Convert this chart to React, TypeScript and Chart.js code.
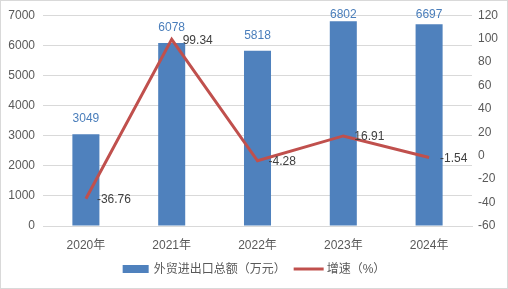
import React, { useEffect, useRef } from "react";
import { Chart, registerables } from "chart.js";

Chart.register(...registerables);

const categories = ["2020年", "2021年", "2022年", "2023年", "2024年"];
const totalValues = [3049, 6078, 5818, 6802, 6697];
const growthValues = [-36.76, 99.34, -4.28, 16.91, -1.54];
const barLabel = "外贸进出口总额（万元）";
const lineLabel = "增速（%）";

const BAR_COLOR = "#4f81bd";
const LINE_COLOR = "#c0504d";
const TICK_COLOR = "#595959";
const FONT = "'Liberation Sans', 'Noto Sans CJK SC', sans-serif";

const decor = {
  id: "decor",
  afterDatasetsDraw(chart: any) {
    const ctx = chart.ctx;
    ctx.save();
    ctx.font = `12px ${FONT}`;
    // bar labels
    const barMeta = chart.getDatasetMeta(0);
    ctx.fillStyle = "#4a7ebb";
    ctx.textAlign = "center";
    ctx.textBaseline = "middle";
    barMeta.data.forEach((el: any, i: number) => {
      const y = Math.max(el.y - 15, chart.chartArea.top - 1);
      ctx.fillText(String(totalValues[i]), el.x, y);
    });
    // line labels
    const lineMeta = chart.getDatasetMeta(1);
    ctx.fillStyle = "#404040";
    ctx.textAlign = "left";
    lineMeta.data.forEach((el: any, i: number) => {
      ctx.fillText(growthValues[i].toFixed(2), el.x + 11, el.y + 1);
    });
    // legend
    const W = chart.width;
    const ly = 269;
    const t1 = ctx.measureText(barLabel).width;
    const t2 = ctx.measureText(lineLabel).width;
    const total = 26 + 5 + t1 + 8 + 30 + 3 + t2;
    let x = W / 2 - total / 2;
    ctx.fillStyle = BAR_COLOR;
    ctx.fillRect(x, ly - 4, 26, 8);
    x += 31;
    ctx.fillStyle = TICK_COLOR;
    ctx.fillText(barLabel, x, ly + 1);
    x += t1 + 8;
    ctx.strokeStyle = LINE_COLOR;
    ctx.lineWidth = 3;
    ctx.beginPath();
    ctx.moveTo(x, ly);
    ctx.lineTo(x + 30, ly);
    ctx.stroke();
    x += 33;
    ctx.fillText(lineLabel, x, ly + 1);
    // outer border
    ctx.strokeStyle = "#d9d9d9";
    ctx.lineWidth = 1;
    ctx.strokeRect(0.5, 0.5, W - 1, chart.height - 1);
    ctx.restore();
  },
};

export default function App() {
  const ref = useRef<HTMLCanvasElement>(null);
  useEffect(() => {
    if (!ref.current) return;
    const chart = new Chart(ref.current, {
      type: "bar",
      data: {
        labels: categories,
        datasets: [
          {
            type: "bar",
            label: barLabel,
            data: totalValues,
            backgroundColor: BAR_COLOR,
            yAxisID: "y",
            categoryPercentage: 1,
            barPercentage: 0.315,
            order: 2,
          },
          {
            type: "line",
            label: lineLabel,
            data: growthValues,
            borderColor: LINE_COLOR,
            borderWidth: 3,
            pointRadius: 0,
            tension: 0,
            yAxisID: "y1",
            order: 1,
          } as any,
        ],
      },
      options: {
        responsive: false,
        animation: false,
        layout: { padding: { top: 15, bottom: 33, left: 0, right: 0 } },
        plugins: { legend: { display: false }, tooltip: { enabled: false } },
        scales: {
          x: {
            grid: { display: false },
            border: { color: "#d9d9d9" },
            ticks: { color: TICK_COLOR, font: { size: 12, family: FONT }, padding: 4 },
            afterFit(s: any) { s.height = 30; },
          },
          y: {
            position: "left",
            min: 0,
            max: 7000,
            ticks: {
              stepSize: 1000,
              color: TICK_COLOR,
              font: { size: 12, family: FONT },
              padding: 8,
              callback: (v: any) => String(v),
            },
            grid: { color: "#d9d9d9", drawTicks: false },
            border: { display: false },
            afterFit(s: any) { s.width = 43; },
          },
          y1: {
            position: "right",
            min: -60,
            max: 120,
            ticks: {
              stepSize: 20,
              color: TICK_COLOR,
              font: { size: 12, family: FONT },
              padding: 6,
              callback: (v: any) => String(v),
            },
            grid: { display: false, drawTicks: false },
            border: { display: false },
            afterFit(s: any) { s.width = 36; },
          },
        },
      },
      plugins: [decor],
    });
    return () => chart.destroy();
  }, []);
  return (
    <div style={{ position: "fixed", left: 0, top: 0, width: 508, height: 289, background: "#fff" }}>
      <canvas ref={ref} width={508} height={289} />
    </div>
  );
}
